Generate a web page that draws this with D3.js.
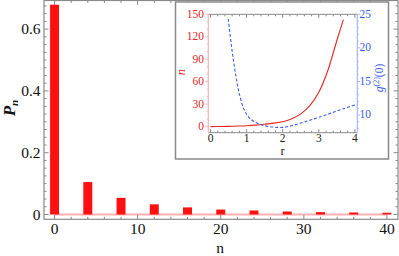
<!DOCTYPE html>
<html><head><meta charset="utf-8">
<script src="https://cdn.jsdelivr.net/npm/d3@7"></script>
<style>body{margin:0;background:#fff}svg{display:block}</style>
</head><body><svg id="c" width="399" height="256" font-family="Liberation Serif"></svg>
<script>
// Main chart data
const photonN = [0, 4, 8, 12, 16, 20, 24, 28, 32, 36, 40];
const probP = [0.679, 0.105, 0.054, 0.033, 0.023, 0.016, 0.013, 0.0097, 0.0077, 0.0066, 0.0057];
const xTicks = [0, 10, 20, 30, 40];
const yTicks = [0, 0.2, 0.4, 0.6];
// Inset data
const rN = [0, 0.25, 0.5, 0.75, 1, 1.25, 1.5, 1.75, 2, 2.25, 2.5, 2.75, 3, 3.25, 3.5, 3.68];
const meanN = [0, 0.1, 0.3, 0.7, 1.2, 2, 3.2, 4.6, 6.5, 10.5, 17, 28, 46, 75, 115, 143];
const rG = [0.49, 0.55, 0.6, 0.65, 0.7, 0.75, 0.8, 0.9, 1.0, 1.1, 1.25, 1.5, 1.75, 2, 2.25, 2.5, 2.75, 3, 3.25, 3.5, 3.75, 4];
const g2 = [24.3, 21.6, 19.5, 17.6, 15.9, 14.4, 13.1, 11.2, 10.1, 9.45, 8.9, 8.4, 8.2, 8.15, 8.4, 8.8, 9.2, 9.65, 10.1, 10.6, 11.05, 11.5];
const rTicks = [0, 1, 2, 3, 4];
const nTicks = [0, 30, 60, 90, 120, 150];
const gTicks = [10, 15, 20, 25];

const svg = d3.select("#c");
const frame = "#8a8a8a";
const FF = "Liberation Serif";

// ---- main plot
const L = 44, R = 398, T = 0.5, B = 219.3;
const x = d3.scaleLinear().domain([-1.27, 41.33]).range([L, R]);
const y = d3.scaleLinear().domain([-0.0155, 0.6926]).range([B, T]);

svg.append("line").attr("x1", x(0)).attr("x2", x(40)).attr("y1", y(0)).attr("y2", y(0))
  .attr("stroke", "#ffb0b0").attr("stroke-width", 1.8);

const bw = 1.08;
svg.selectAll("rect.bar").data(photonN).join("rect").attr("class", "bar")
  .attr("x", (d) => x(d - bw / 2)).attr("width", x(bw) - x(0))
  .attr("y", (d, i) => y(probP[i])).attr("height", (d, i) => y(0) - y(probP[i]))
  .attr("fill", "#ff1010");

svg.append("rect").attr("x", L).attr("y", T).attr("width", R - L).attr("height", B - T)
  .attr("fill", "none").attr("stroke", frame).attr("stroke-width", 1.2);

d3.range(0, 41, 2).forEach(v => {
  const major = v % 10 === 0;
  const len = major ? 4.5 : 2.5;
  svg.append("line").attr("x1", x(v)).attr("x2", x(v)).attr("y1", B).attr("y2", B - len).attr("stroke", frame);
  svg.append("line").attr("x1", x(v)).attr("x2", x(v)).attr("y1", T).attr("y2", T + len).attr("stroke", frame);
});
d3.range(0, 0.69, 0.025).forEach(v => {
  const major = Math.abs(v / 0.2 - Math.round(v / 0.2)) < 1e-6;
  const len = major ? 4.5 : 2.5;
  svg.append("line").attr("x1", L).attr("x2", L + len).attr("y1", y(v)).attr("y2", y(v)).attr("stroke", frame);
  svg.append("line").attr("x1", R).attr("x2", R - len).attr("y1", y(v)).attr("y2", y(v)).attr("stroke", frame);
});
svg.selectAll("text.xt").data(xTicks).join("text").attr("class", "xt").attr("font-family", FF)
  .attr("x", d => x(d)).attr("y", 234).attr("text-anchor", "middle")
  .attr("font-size", 15.5).attr("fill", "#111").text(d => d);
svg.selectAll("text.yt").data(yTicks).join("text").attr("class", "yt").attr("font-family", FF)
  .attr("x", 40.5).attr("y", d => y(d) + 5).attr("text-anchor", "end")
  .attr("font-size", 15.5).attr("fill", "#111").text(d => d === 0 ? "0" : d.toFixed(1));
svg.append("text").attr("x", 220).attr("y", 253).attr("text-anchor", "middle").attr("font-family", FF)
  .attr("font-size", 15.5).attr("fill", "#111").text("n");
const pl = svg.append("text").attr("transform", "translate(15,108) rotate(-90)").attr("font-family", FF)
  .attr("text-anchor", "middle").attr("font-size", 17).attr("fill", "#111")
  .attr("font-style", "italic").attr("font-weight", "bold");
pl.append("tspan").text("P");
pl.append("tspan").attr("font-size", 11).attr("dy", 3).text("n");

// ---- inset
svg.append("rect").attr("x", 175.5).attr("y", 2).attr("width", 213).attr("height", 157)
  .attr("fill", "#fff").attr("stroke", frame).attr("stroke-width", 1.5);

const iL = 208.3, iR = 357.3, iT = 14.3, iB = 132.7;
const xr = d3.scaleLinear().domain([-0.061, 4.066]).range([iL, iR]);
const yn = d3.scaleLinear().domain([-8.15, 150]).range([iB, iT]);
const yg = d3.scaleLinear().domain([7.36, 25]).range([iB, iT]);

const redC = "#e82424", blueC = "#3a5cf0";
const pinkAx = "#f6b4b4", blueAx = "#a9b6f7";

svg.append("line").attr("x1", iL).attr("x2", iR).attr("y1", iT).attr("y2", iT).attr("stroke", frame);
svg.append("line").attr("x1", iL).attr("x2", iR).attr("y1", iB).attr("y2", iB).attr("stroke", frame);
d3.range(0, 4.01, 0.2).forEach(v => {
  const major = Math.abs(v - Math.round(v)) < 1e-6;
  const len = major ? 3.5 : 2;
  svg.append("line").attr("x1", xr(v)).attr("x2", xr(v)).attr("y1", iT).attr("y2", iT + len).attr("stroke", frame);
  svg.append("line").attr("x1", xr(v)).attr("x2", xr(v)).attr("y1", iB).attr("y2", iB - len).attr("stroke", frame);
});
svg.append("line").attr("x1", iL).attr("x2", iL).attr("y1", iT).attr("y2", iB).attr("stroke", pinkAx).attr("stroke-width", 1.2);
d3.range(0, 151, 10).forEach(v => {
  const len = v % 30 === 0 ? 3 : 1.5;
  svg.append("line").attr("x1", iL).attr("x2", iL - len).attr("y1", yn(v)).attr("y2", yn(v)).attr("stroke", pinkAx);
});
svg.append("line").attr("x1", iR).attr("x2", iR).attr("y1", iT).attr("y2", iB).attr("stroke", blueAx).attr("stroke-width", 1.2);
d3.range(8, 25.01, 1).forEach(v => {
  const len = v % 5 === 0 ? 3 : 1.5;
  svg.append("line").attr("x1", iR).attr("x2", iR + len).attr("y1", yg(v)).attr("y2", yg(v)).attr("stroke", blueAx);
});

svg.selectAll("text.rt").data(rTicks).join("text").attr("class", "rt").attr("font-family", FF)
  .attr("x", d => xr(d)).attr("y", 141.5).attr("text-anchor", "middle")
  .attr("font-size", 11.5).attr("fill", "#222").text(d => d);
svg.selectAll("text.nt").data(nTicks).join("text").attr("class", "nt").attr("font-family", FF)
  .attr("x", 204).attr("y", d => yn(d) + 3.5).attr("text-anchor", "end")
  .attr("font-size", 11.5).attr("fill", redC).text(d => d);
svg.selectAll("text.gt").data(gTicks).join("text").attr("class", "gt").attr("font-family", FF)
  .attr("x", 359.5).attr("y", d => yg(d) + 3.5).attr("text-anchor", "start")
  .attr("font-size", 11.5).attr("fill", blueC).text(d => d);
svg.append("text").attr("x", 282.5).attr("y", 155).attr("text-anchor", "middle").attr("font-family", FF)
  .attr("font-size", 12.5).attr("fill", "#222").text("r");
svg.append("text").attr("transform", "translate(185,72) rotate(-90)").attr("text-anchor", "middle").attr("font-family", FF)
  .attr("font-size", 12.5).attr("font-style", "italic").attr("fill", redC).text("n");
const gl = svg.append("text").attr("transform", "translate(383,78) rotate(-90)").attr("text-anchor", "middle").attr("font-family", FF)
  .attr("font-size", 11.5).attr("fill", blueC);
gl.append("tspan").attr("font-style", "italic").text("g");
gl.append("tspan").attr("font-size", 8).attr("dy", -4).text("(2)");
gl.append("tspan").attr("dy", 4).text("(0)");

const lineN = d3.line().x((d, i) => xr(rN[i])).y((d) => yn(d)).curve(d3.curveCatmullRom);
svg.append("path").attr("d", lineN(meanN)).attr("fill", "none").attr("stroke", redC).attr("stroke-width", 1.1);
const lineG = d3.line().x((d, i) => xr(rG[i])).y((d) => yg(d)).curve(d3.curveCatmullRom);
svg.append("path").attr("d", lineG(g2)).attr("fill", "none").attr("stroke", blueC).attr("stroke-width", 1.1)
  .attr("stroke-dasharray", "3,2");
</script></body></html>
